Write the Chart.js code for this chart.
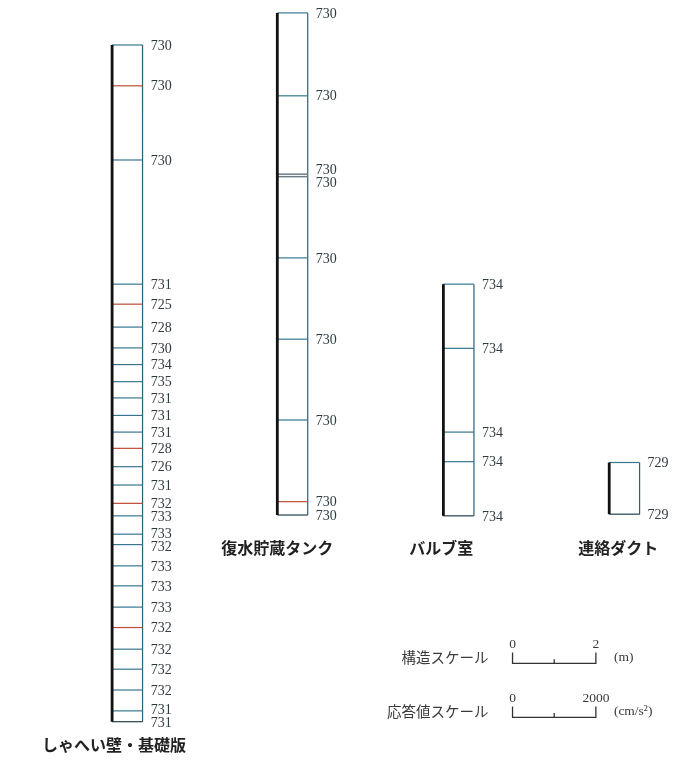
<!DOCTYPE html>
<html>
<head>
<meta charset="utf-8">
<script src="https://cdn.jsdelivr.net/npm/chart.js@4.4.1/dist/chart.umd.min.js"></script>
<style>
  html, body { margin: 0; padding: 0; background: #fff; }
  canvas { display: block; }
</style>
</head>
<body>
<canvas id="chart" width="689" height="764"></canvas>
<script>
// structure names
const names = ["しゃへい壁・基礎版", "復水貯蔵タンク", "バルブ室", "連絡ダクト"];

// elevation of each structure's base (m, from base of しゃへい壁)
const baseEL = [0, 4.96, 4.94, 4.98];

// node heights above each base (m), top to bottom
const levels = [
  [16.24, 15.26, 13.48, 10.50, 10.02, 9.47, 8.97, 8.57, 8.16, 7.77, 7.35, 6.95, 6.56, 6.12,
   5.68, 5.24, 4.94, 4.50, 4.25, 3.74, 3.26, 2.75, 2.26, 1.74, 1.26, 0.76, 0.26, 0],
  [12.05, 10.06, 8.18, 8.12, 6.17, 4.22, 2.28, 0.32, 0],
  [5.56, 4.02, 2.01, 1.30, 0],
  [1.24, 0]
];

// max response acceleration (cm/s2) at each node
const accel = [
  [730, 730, 730, 731, 725, 728, 730, 734, 735, 731, 731, 731, 728, 726,
   731, 732, 733, 733, 732, 733, 733, 733, 732, 732, 732, 732, 731, 731],
  [730, 730, 730, 730, 730, 730, 730, 730, 730],
  [734, 734, 734, 734, 734],
  [729, 729]
];

// scale legend
const structScale = [0, 2];      // m
const accScale = [0, 2000];      // cm/s2

// ---- layout / style ----
const PX_PER_M = 41.67;
const ACC_TO_M = 2 / 2000;       // 2000 cm/s2 drawn as long as 2 m
const baseX = [2.69, 6.655, 10.64, 14.62];
const nameEL = [-0.56, 4.17, 4.17, 4.17];
const nameDx = [2, 0, -2, 9];
const legendX = 12.30;
const legendY = [1.40, 0.106];

const TEAL = "#36768f";
const RED = "#bf4a35";
const DARK = "#22404c";
// lines drawn red / grey in the figure
const redLines = { 0: [1, 4, 12, 15, 22], 1: [7] };
const greyLines = { 1: [2, 3] };

function lineColor(i, j) {
  if ((redLines[i] || []).includes(j)) return RED;
  if ((greyLines[i] || []).includes(j)) return "#6d7d86";
  if (j === levels[i].length - 1) return DARK;
  return TEAL;
}

const datasets = [];
names.forEach((nm, i) => {
  const x0 = baseX[i], e0 = baseEL[i];
  const lv = levels[i], ac = accel[i];
  datasets.push({
    data: [{ x: x0, y: e0 }, { x: x0, y: e0 + Math.max(...lv) }],
    borderColor: "#111", borderWidth: 2.8, order: 0
  });
  datasets.push({
    data: lv.map((h, j) => ({ x: x0 + ac[j] * ACC_TO_M, y: e0 + h })),
    borderColor: "#2c5f73", borderWidth: 1.2, order: 2
  });
  lv.forEach((h, j) => {
    datasets.push({
      data: [{ x: x0, y: e0 + h }, { x: x0 + ac[j] * ACC_TO_M, y: e0 + h }],
      borderColor: lineColor(i, j),
      borderWidth: (greyLines[i] || []).includes(j) ? 1.5 : 1.2,
      order: 1
    });
  });
});

// scale bars
const tickH = 0.26, midH = 0.1;
[[structScale, 1], [accScale, ACC_TO_M]].forEach(([sc, k], n) => {
  const y = legendY[n];
  const x1 = legendX + sc[0] * k, x2 = legendX + sc[1] * k;
  datasets.push({
    data: [{ x: x1, y: y + tickH }, { x: x1, y: y }, { x: x2, y: y }, { x: x2, y: y + tickH }],
    borderColor: "#333", borderWidth: 1.3, order: 0
  });
  datasets.push({
    data: [{ x: (x1 + x2) / 2, y: y }, { x: (x1 + x2) / 2, y: y + midH }],
    borderColor: "#333", borderWidth: 1.3, order: 0
  });
});

const textPlugin = {
  id: "texts",
  afterDatasetsDraw(chart) {
    const ctx = chart.ctx;
    const xs = chart.scales.x, ys = chart.scales.y;
    ctx.save();

    // value labels
    ctx.font = "14px 'Liberation Serif', serif";
    ctx.fillStyle = "#2f3b41";
    ctx.textAlign = "left";
    ctx.textBaseline = "middle";
    names.forEach((nm, i) => {
      const lv = levels[i];
      const lx = xs.getPixelForValue(baseX[i] + Math.max(...accel[i]) * ACC_TO_M) + 8;
      const py = lv.map(h => ys.getPixelForValue(baseEL[i] + h));
      const gap = 13;
      for (let it = 0; it < 10; it++) {
        for (let j = 1; j < py.length; j++) {
          const d = py[j] - py[j - 1];
          if (d < gap) {
            py[j - 1] -= (gap - d) / 2;
            py[j] += (gap - d) / 2;
          }
        }
      }
      py.forEach((p, j) => ctx.fillText(String(accel[i][j]), lx, p + 1));
    });

    // structure names
    ctx.font = "bold 16px 'Noto Sans CJK JP', sans-serif";
    ctx.fillStyle = "#222";
    ctx.textAlign = "center";
    names.forEach((nm, i) => {
      ctx.fillText(nm, xs.getPixelForValue(baseX[i]) + nameDx[i], ys.getPixelForValue(nameEL[i]));
    });

    // scale legend
    const rows = [
      { title: "構造スケール", sc: structScale, k: 1, unit: "(m)" },
      { title: "応答値スケール", sc: accScale, k: ACC_TO_M, unit: "(cm/s²)" }
    ];
    rows.forEach((r, n) => {
      const by = ys.getPixelForValue(legendY[n]);
      const x1 = xs.getPixelForValue(legendX + r.sc[0] * r.k);
      const x2 = xs.getPixelForValue(legendX + r.sc[1] * r.k);
      ctx.font = "14.5px 'Noto Sans CJK JP', sans-serif";
      ctx.fillStyle = "#3a3a3a";
      ctx.textAlign = "right";
      ctx.fillText(r.title, x1 - 24, by - 6);
      ctx.font = "13.5px 'Liberation Serif', serif";
      ctx.textAlign = "center";
      ctx.fillText(String(r.sc[0]), x1, by - 19);
      ctx.fillText(String(r.sc[1]), x2, by - 19);
      ctx.textAlign = "left";
      ctx.fillText(r.unit, x2 + 18, by - 6);
    });
    ctx.restore();
  }
};

new Chart(document.getElementById("chart"), {
  type: "scatter",
  data: { datasets },
  options: {
    responsive: false,
    animation: false,
    showLine: true,
    layout: { padding: 0 },
    elements: { point: { radius: 0, hoverRadius: 0 }, line: { tension: 0 } },
    plugins: { legend: { display: false }, tooltip: { enabled: false } },
    scales: {
      x: { type: "linear", display: false, min: 0, max: 689 / PX_PER_M },
      y: { type: "linear", display: false, min: (721.7 - 764) / PX_PER_M, max: 721.7 / PX_PER_M }
    }
  },
  plugins: [textPlugin]
});
</script>
</body>
</html>
